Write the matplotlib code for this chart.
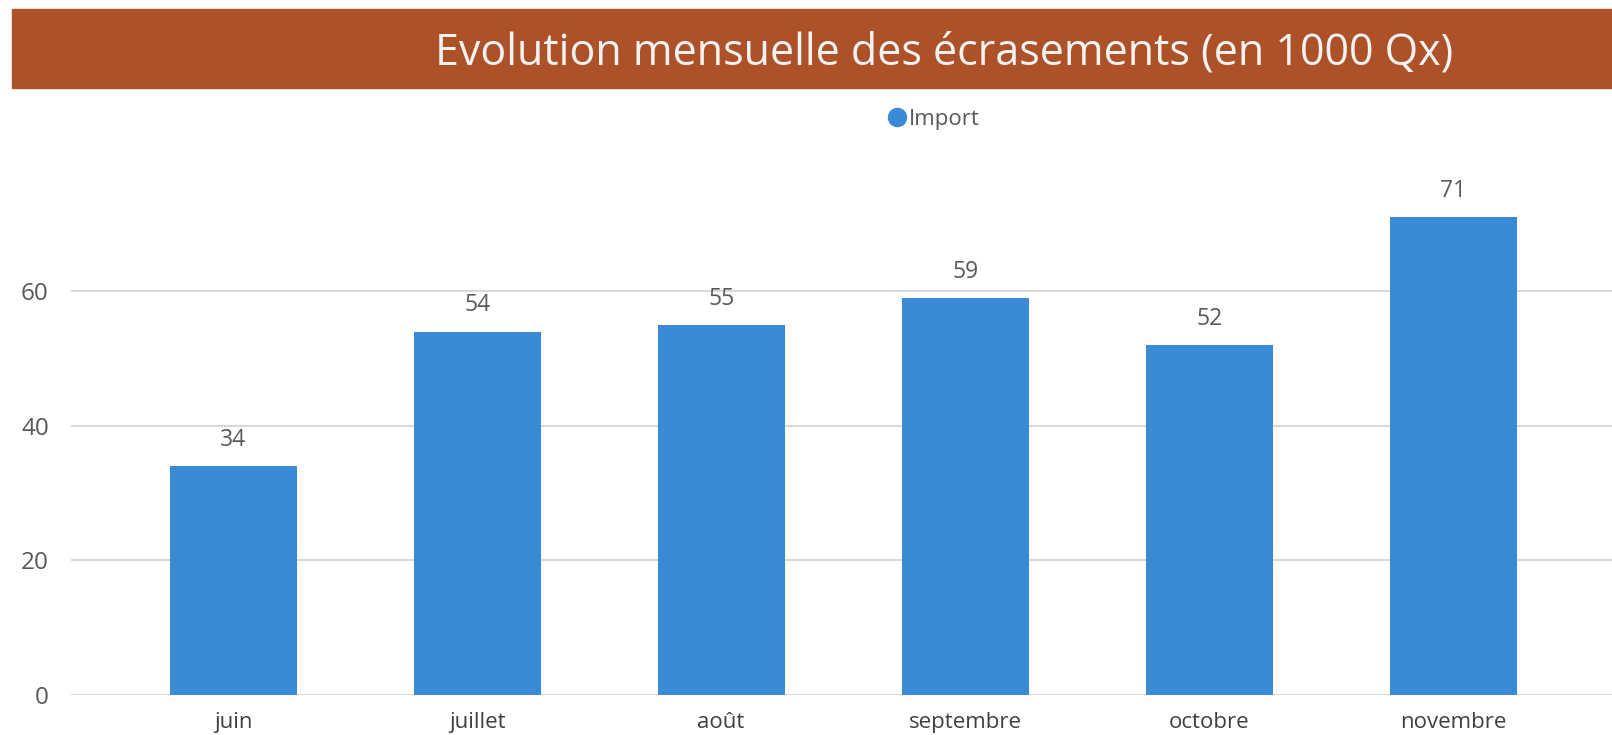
import matplotlib.pyplot as plt
from matplotlib.patches import Rectangle

mois = ['juin', 'juillet', 'août', 'septembre', 'octobre', 'novembre']
import_vals = [34, 54, 55, 59, 52, 71]
y_ticks = [0, 20, 40, 60]

bar_color = '#3A8AD8'
banner_color = '#AD5129'
text_gray = '#595959'

plt.rcParams['font.family'] = ['Open Sans', 'DejaVu Sans']

fig = plt.figure(figsize=(16.12, 7.35), dpi=100)

# bandeau du titre
fig.patches.append(Rectangle((12 / 1612, 1 - 88 / 735), 1, 79 / 735,
                             transform=fig.transFigure, color=banner_color, zorder=0))
fig.text(944 / 1612, 1 - 53 / 735, 'Evolution mensuelle des écrasements (en 1000 Qx)',
         ha='center', va='center', fontsize=31, color='#F2F2F2')

ax = fig.add_axes([71 / 1612, 40 / 735, 1 - 71 / 1612, 518 / 735])
ax.bar(range(len(mois)), import_vals, width=0.52, color=bar_color, linewidth=0,
       label='Import', zorder=3)

for i, v in enumerate(import_vals):
    ax.annotate(str(v), (i, v), xytext=(0, 19), textcoords='offset points',
                ha='center', va='center', fontsize=16.5, color=text_gray)

ax.set_xlim(-0.664, 5.65)
ax.set_ylim(0, 77)
ax.set_yticks(y_ticks)
ax.set_xticks(range(len(mois)))
ax.set_xticklabels(mois)
ax.tick_params(axis='y', length=0, pad=16, labelsize=17.5, labelcolor=text_gray)
ax.tick_params(axis='x', length=0, pad=12, labelsize=16, labelcolor='#404040')
ax.grid(axis='y', color='#D9D9D9', linewidth=1.5, zorder=0)
for s in ax.spines.values():
    s.set_visible(False)

leg = fig.legend(handles=[plt.Line2D([], [], marker='o', linestyle='', markersize=13,
                                     color=bar_color)],
                 labels=['Import'], loc='center', bbox_to_anchor=(932 / 1612, 1 - 119 / 735),
                 frameon=False, fontsize=16, handletextpad=0.0, borderpad=0, handlelength=1.1)
for t in leg.get_texts():
    t.set_color(text_gray)

fig.savefig('out.png', dpi=100)
